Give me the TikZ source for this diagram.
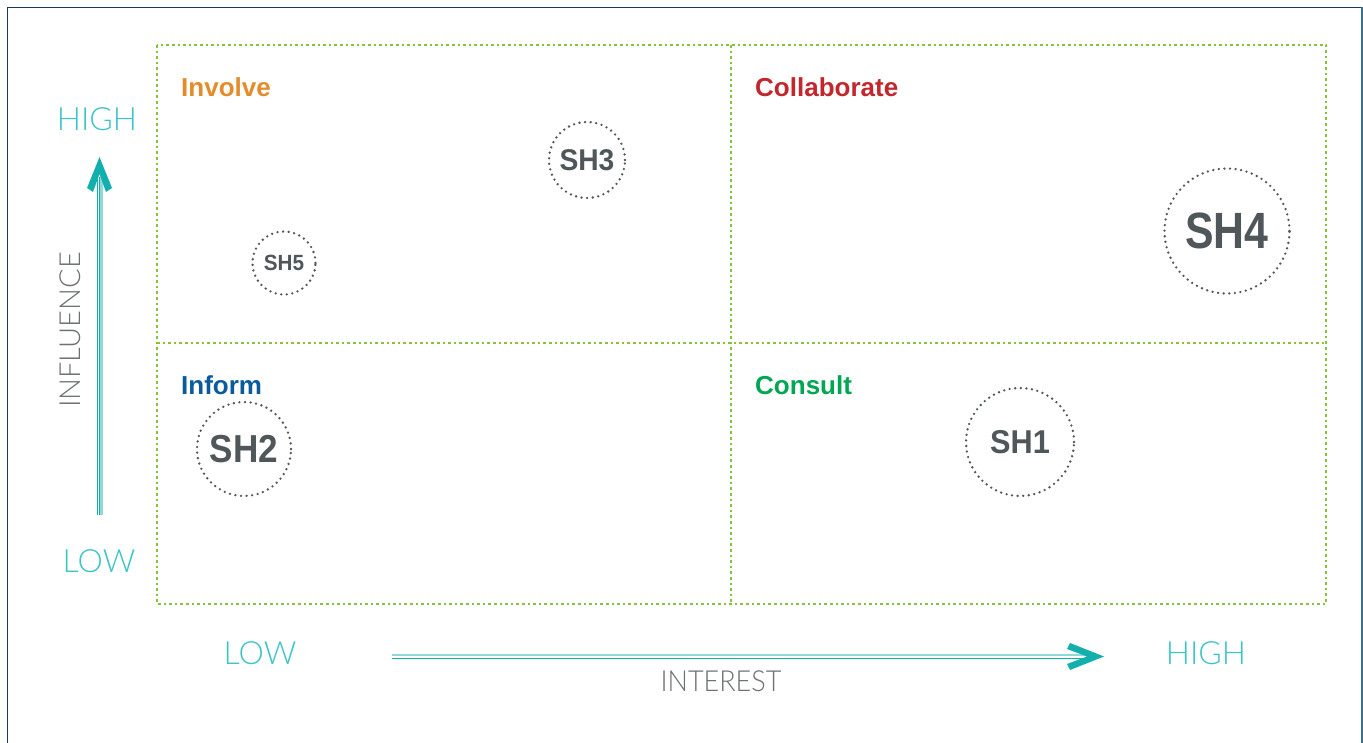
\documentclass[tikz,border=0pt]{standalone}
\usepackage{fontspec}
\setmainfont{Liberation Sans}
\IfFontExistsTF{Lato Light}{\newfontfamily\thinfont{Lato Light}}{%
  \IfFontExistsTF{Fira Sans Light}{\newfontfamily\thinfont{Fira Sans Light}}{\newfontfamily\thinfont{Lato}}}
\definecolor{navy}{HTML}{173A5E}
\definecolor{rightblue}{HTML}{3D7090}
\definecolor{gridgreen}{HTML}{85C43A}
\definecolor{orangeq}{HTML}{E28C2B}
\definecolor{redq}{HTML}{C1272D}
\definecolor{blueq}{HTML}{0B5A9C}
\definecolor{greenq}{HTML}{00A651}
\definecolor{tealtext}{HTML}{3CC4C6}
\definecolor{tealarrow}{HTML}{12B0AC}
\definecolor{teallight}{HTML}{8FD9D9}
\definecolor{graytext}{HTML}{6D7172}
\definecolor{ringgray}{HTML}{50575A}
\begin{document}
\begin{tikzpicture}[x=1pt,y=-1pt,
  gridline/.style={draw=gridgreen,line width=2.8pt,dash pattern=on 2.6pt off 3pt},
  ring/.style={circle,draw=ringgray,line width=2.6pt,line cap=round,dash pattern=on 0pt off 5.6pt,text=ringgray,font=\bfseries,inner sep=0pt},
  quad/.style={anchor=west,inner sep=0pt,font=\bfseries\fontsize{26}{26}\selectfont},
  axislbl/.style={text=tealtext,font=\thinfont\fontsize{32}{32}\selectfont,inner sep=0pt},
  axisname/.style={text=graytext,font=\thinfont\fontsize{29}{29}\selectfont,inner sep=0pt}]
\useasboundingbox (0,0) rectangle (1363,743);
\fill[white] (0,0) rectangle (1363,743);
% outer frame
\draw[navy,line width=1.6pt] (7.5,743) -- (7.5,7.5) -- (1362,7.5);
\draw[rightblue,line width=1.6pt] (1362,7.5) -- (1362,743);
% grid
\draw[gridline] (157,45) rectangle (1326,604);
\draw[gridline] (731,45) -- (731,604);
\draw[gridline] (157,343) -- (1326,343);
% quadrant labels
\node[quad,text=orangeq] (involve) at (181,87) {Involve};
\node[quad,text=redq] (collab) at (755,87) {Collaborate};
\node[quad,text=blueq] (inform) at (181,385) {Inform};
\node[quad,text=greenq] (consult) at (755,385) {Consult};
% stakeholders
\node[ring,minimum size=76pt] (sh3) at (587,160) {\fontsize{30}{30}\selectfont\scalebox{.94}[1]{SH3}};
\node[ring,minimum size=63pt] (sh5) at (284,263) {\fontsize{22}{22}\selectfont\scalebox{.94}[1]{SH5}};
\node[ring,minimum size=125pt] (sh4) at (1227,231) {\fontsize{51}{51}\selectfont\scalebox{.84}[1]{SH4}};
\node[ring,minimum size=94pt] (sh2) at (244,449) {\fontsize{39}{39}\selectfont\scalebox{.9}[1]{SH2}};
\node[ring,minimum size=108pt] (sh1) at (1020,442) {\fontsize{33}{33}\selectfont\scalebox{.93}[1]{SH1}};
% axis labels
\node[axislbl] (yhigh) at (97,119) {HIGH};
\node[axislbl] (ylow) at (99,561) {LOW};
\node[axislbl] (xlow) at (260,653) {LOW};
\node[axislbl] (xhigh) at (1206,653) {HIGH};
\node[axisname,rotate=90] (influence) at (70,330) {INFLUENCE};
\node[axisname] (interest) at (721,681) {\scalebox{.93}[1]{INTEREST}};
% vertical arrow
\coordinate (vb) at (99.5,515);
\coordinate (vt) at (99.5,157);
\draw[tealarrow,line width=0.9pt] ([xshift=-2pt]vb) -- ([xshift=-2pt,yshift=-20pt]vt);
\draw[tealarrow,line width=0.9pt] ([xshift=-0.3pt]vb) -- ([xshift=-0.3pt,yshift=-20pt]vt);
\draw[teallight,line width=2.2pt] ([xshift=2pt]vb) -- ([xshift=2pt,yshift=-20pt]vt);
\fill[tealarrow] (vt) -- ++(12.5,31) -- ++(-6,4) -- (99.5,174) -- (93,192) -- ++(-6,-4) -- cycle;
% horizontal arrow
\coordinate (hl) at (392,656.5);
\coordinate (hr) at (1104,656.5);
\draw[tealarrow,line width=1pt] ([yshift=-2.4pt]hl) -- ([xshift=-18pt,yshift=-2.4pt]hr);
\draw[teallight,line width=3.4pt] ([yshift=1pt]hl) -- ([xshift=-18pt,yshift=1pt]hr);
\draw[white,line width=0.5pt] ([yshift=0.6pt]hl) -- ([xshift=-18pt,yshift=0.6pt]hr);
\fill[tealarrow] (hr) -- (1070,643) -- (1067,649) -- (1087,656.5) -- (1067,664) -- (1070,670) -- cycle;
\end{tikzpicture}
\end{document}
